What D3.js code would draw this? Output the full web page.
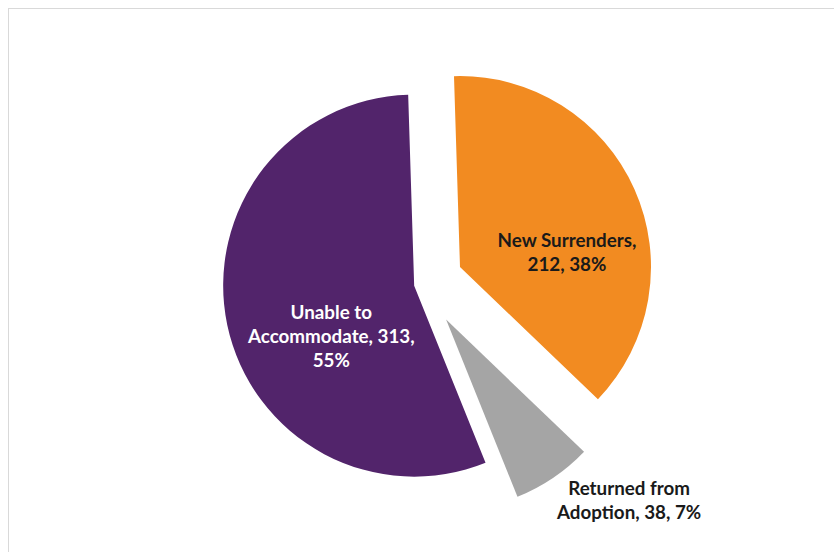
<!DOCTYPE html>
<html>
<head>
<meta charset="utf-8">
<script src="https://cdn.jsdelivr.net/npm/d3@7"></script>
<style>
  body { margin: 0; background: #fff; }
  svg { display: block; }
  text { font-family: Lato, "Open Sans", sans-serif; font-weight: 700; }
</style>
</head>
<body>
<svg width="834" height="552"></svg>
<script>
const width = 834,
    height = 552,
    radius = 191,
    cx = 422,
    cy = 284,
    startDeg = -1.8;

// data
const categories = ["New Surrenders", "Returned from Adoption", "Unable to Accommodate"];
const counts = [212, 38, 313];
const percents = ["38%", "7%", "55%"];
const labelLines = [
  ["New Surrenders,", "212, 38%"],
  ["Returned from", "Adoption, 38, 7%"],
  ["Unable to", "Accommodate, 313,", "55%"]
];

// look
const colors = ["#F28B21", "#A5A5A5", "#52246B"];
const textColors = ["#1a1a1a", "#1a1a1a", "#ffffff"];
const explode = [41.6, 43, 8];
// label placement relative to each slice tip: angle (deg from north), distance
const labelAngle = [82, 134.6, 238.7];
const labelDist = [108, 257, 97];

const svg = d3.select("svg");

svg.append("rect")
  .attr("x", 8.5).attr("y", 8.5)
  .attr("width", width).attr("height", height)
  .attr("fill", "none")
  .attr("stroke", "#d9d9d9");

const toRad = d => d * Math.PI / 180;

const pie = d3.pie()
  .sort(null)
  .startAngle(toRad(startDeg))
  .endAngle(toRad(startDeg + 360));

const arcs = pie(counts);

const arc = d3.arc().innerRadius(0).outerRadius(radius);

const g = svg.append("g").attr("transform", `translate(${cx},${cy})`);

const slices = g.selectAll("g.slice")
  .data(arcs)
  .join("g")
  .attr("class", "slice")
  .attr("transform", (d, i) => {
    const m = (d.startAngle + d.endAngle) / 2;
    return `translate(${Math.sin(m) * explode[i]},${-Math.cos(m) * explode[i]})`;
  });

slices.append("path")
  .attr("d", arc)
  .attr("fill", (d, i) => colors[i]);

const lineH = 24;

slices.append("text")
  .attr("text-anchor", "middle")
  .attr("font-size", 18.8)
  .attr("fill", (d, i) => textColors[i])
  .attr("transform", (d, i) => {
    const a = toRad(labelAngle[i]);
    return `translate(${Math.sin(a) * labelDist[i]},${-Math.cos(a) * labelDist[i]})`;
  })
  .selectAll("tspan")
  .data((d, i) => labelLines[i].map((t, j, arr) => ({ t, j, n: arr.length })))
  .join("tspan")
  .attr("x", 0)
  .attr("y", d => (d.j - (d.n - 1) / 2) * lineH)
  .attr("dy", "0.35em")
  .text(d => d.t);
</script>
</body>
</html>
